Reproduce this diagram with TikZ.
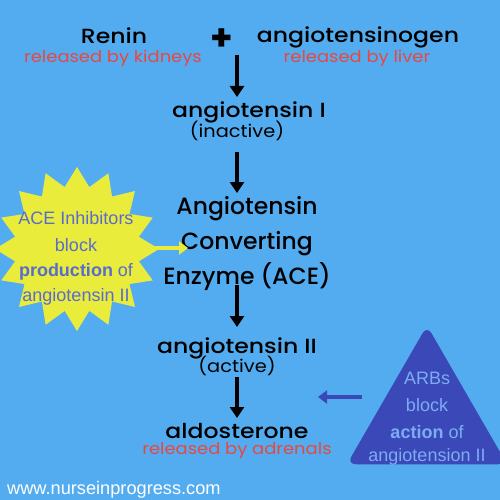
\documentclass[tikz,border=0pt]{standalone}
\usepackage{fontspec}
\setmainfont{Poppins}
\newfontfamily\headfont[FakeStretch=1.15]{Poppins Medium}
\newfontfamily\enzymefont{Poppins Medium}
\newfontfamily\smallfont[FakeStretch=1.1]{Poppins}
\newfontfamily\arialfont{Liberation Sans}
\usetikzlibrary{arrows.meta,shapes.geometric}

\definecolor{skyback}{RGB}{84,172,240}
\definecolor{srcred}{RGB}{230,72,66}
\definecolor{burstyellow}{RGB}{234,236,60}
\definecolor{burstink}{RGB}{88,108,206}
\definecolor{arbblue}{RGB}{58,72,184}
\definecolor{arbink}{RGB}{125,172,242}

\begin{document}
\begin{tikzpicture}[x=1pt,y=-1pt]

	\tikzstyle title text=[inner sep=0pt, font=\headfont\fontsize{20.5}{23}\selectfont, text=black];
	\tikzstyle enzyme text=[inner sep=0pt, font=\enzymefont\fontsize{23.5}{26}\selectfont, text=black];
	\tikzstyle source text=[inner sep=0pt, font=\smallfont\fontsize{16.3}{19}\selectfont, text=srcred];
	\tikzstyle state text=[inner sep=0pt, font=\smallfont\fontsize{17.6}{20}\selectfont, text=black];
	\tikzstyle side text=[inner sep=0pt, font=\arialfont\fontsize{18}{21}\selectfont];
	\tikzstyle flow=[line width=4pt, -{Triangle[length=11pt,width=14pt]}];

	\useasboundingbox (0,0) rectangle (500,500);
	\clip (0,0) rectangle (500,500);
	\fill[skyback] (0,0) rectangle (500,500);

	% top row
	\node[title text] (renin) at (114,36) {Renin};
	\node[source text] (kidneys) at (113,58) {released by kidneys};
	\node[title text, font=\bfseries\fontsize{36}{38}\selectfont] (plus) at (222,40) {+};
	\node[title text] (agen) at (358,37) {angiotensinogen};
	\node[source text] (liver) at (357,58) {released by liver};

	% main chain
	\node[title text] (angI) at (249,112) {angiotensin I};
	\node[state text] (inact) at (237,131) {(inactive)};
	\foreach \y/\name/\txt in {209/aceA/Angiotensin,244/aceB/Converting,277/aceC/Enzyme (ACE)}
		\node[enzyme text] (\name) at (247,\y) {\txt};
	\node[title text] (angII) at (237,348) {angiotensin II};
	\node[state text] (act) at (237,366) {(active)};
	\node[title text] (aldo) at (237,431) {aldosterone};
	\node[source text] (adren) at (237,451) {released by adrenals};

	\draw[flow] (inact |- 0,55) -- (inact |- 0,97);
	\draw[flow] (inact |- 0,152) -- (inact |- 0,193);
	\draw[flow] (inact |- 0,285) -- (inact |- 0,327);
	\draw[flow] (act |- 0,377) -- (act |- 0,418);

	% ACE inhibitors
	\node[star, star points=16, star point ratio=1.3, minimum size=164pt, inner sep=0pt, fill=burstyellow] (burst) at (77,249) {};
	\foreach \y/\txt in {218/ACE Inhibitors,245/block,272/{\textbf{production} of},297/angiotensin II}
		\node[side text, text=burstink] at (76,\y) {\txt};
	\coordinate (aceend) at (188,248);
	\draw[burstyellow, line width=4pt, -{Triangle[length=9pt,width=13pt]}] (143,248) -- (aceend);

	% ARBs
	\node[regular polygon, regular polygon sides=3, minimum size=185pt, inner sep=0pt, rounded corners=9pt, fill=arbblue] (arbs) at (427,418) {};
	\foreach \y/\txt in {378/ARBs,405/block,432/{\textbf{action} of},457/angiotension II}
		\node[side text, text=arbink] at (427,\y) {\txt};
	\coordinate (arbstart) at (362,397);
	\coordinate (arbend) at (318,397);
	\draw[arbblue, line width=4pt, -{Triangle[length=9pt,width=13pt]}] (arbstart) -- (arbend);

	\node[side text, text=white, anchor=west, font=\arialfont\fontsize{18.2}{21}\selectfont] (url) at (7,490) {www.nurseinprogress.com};

\end{tikzpicture}
\end{document}
